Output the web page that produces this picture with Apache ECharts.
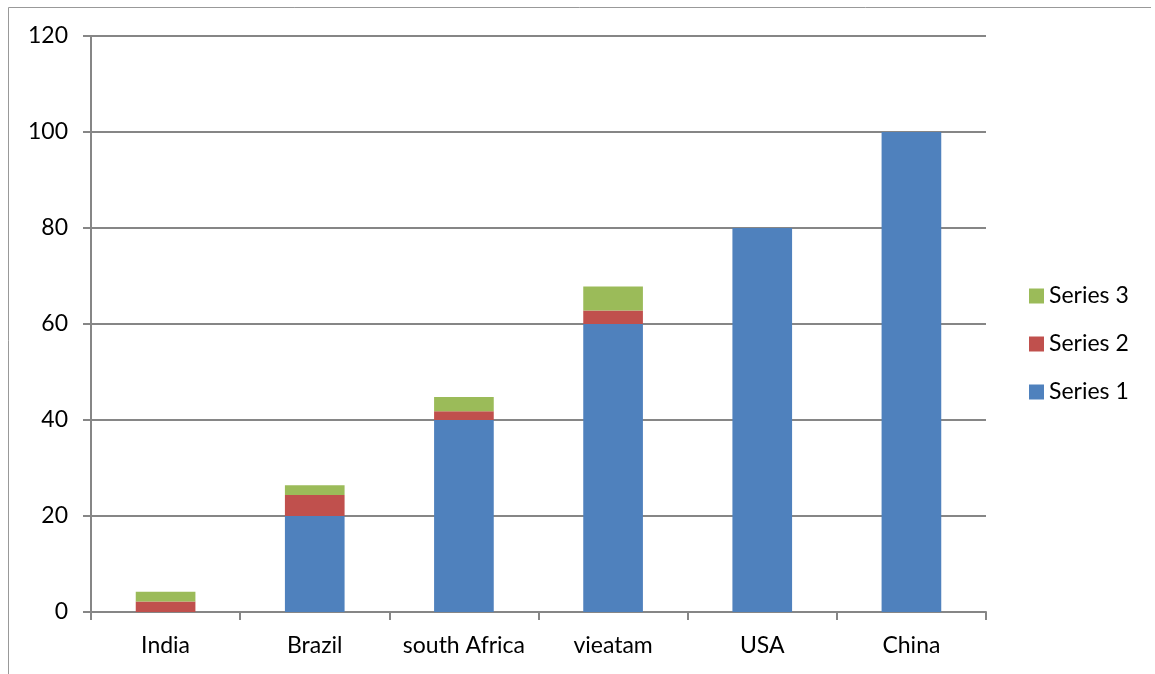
<!DOCTYPE html>
<html><head><meta charset="utf-8">
<script src="https://cdn.jsdelivr.net/npm/echarts@6/dist/echarts.min.js"></script>
<style>html,body{margin:0;padding:0;background:#fff}#c{width:1155px;height:674px}</style>
</head><body><div id="c"></div>
<script>
const categories = ['India', 'Brazil', 'south Africa', 'vieatam', 'USA', 'China'];
const series1 = [0, 20, 40, 60, 80, 100];
const series2 = [2.2, 4.4, 1.8, 2.8, 0, 0];
const series3 = [2.0, 2.0, 3.0, 5.0, 0, 0];
const yTicks = [0, 20, 40, 60, 80, 100, 120];

const chart = echarts.init(document.getElementById('c'), null, {renderer: 'canvas'});
const font = 'Lato, "Open Sans", sans-serif';
const gray = '#868686';
chart.setOption({
  animation: false,
  backgroundColor: '#fff',
  graphic: [{
    type: 'polyline', silent: true,
    shape: {points: [[8.5, 674], [8.5, 7.5], [1151, 7.5]]},
    style: {stroke: '#999', lineWidth: 1, fill: null}
  }],
  grid: {left: 91, right: 169, top: 36, bottom: 62, containLabel: false},
  legend: {
    orient: 'vertical', left: 1024, top: 279,
    itemWidth: 15, itemHeight: 15, itemGap: 24,
    data: ['Series 3', 'Series 2', 'Series 1'],
    textStyle: {fontFamily: font, fontSize: 23, lineHeight: 24, color: '#000'},
    icon: 'rect'
  },
  xAxis: {
    type: 'category', data: categories,
    axisLine: {lineStyle: {color: gray, width: 2}},
    axisTick: {show: true, length: 8, lineStyle: {color: gray, width: 2}},
    axisLabel: {fontFamily: font, fontSize: 23, color: '#000', margin: 22, interval: 0}
  },
  yAxis: {
    type: 'value', min: yTicks[0], max: yTicks[yTicks.length - 1], interval: 20,
    axisLine: {show: true, lineStyle: {color: gray, width: 2}},
    axisTick: {show: true, length: 8, lineStyle: {color: gray, width: 2}},
    splitLine: {lineStyle: {color: gray, width: 2}},
    axisLabel: {fontFamily: font, fontSize: 23, color: '#000', margin: 23}
  },
  series: [
    {name: 'Series 1', type: 'bar', stack: 's', data: series1, barWidth: '40%', itemStyle: {color: '#4F81BD'}},
    {name: 'Series 2', type: 'bar', stack: 's', data: series2, barWidth: '40%', itemStyle: {color: '#C0504D'}},
    {name: 'Series 3', type: 'bar', stack: 's', data: series3, barWidth: '40%', itemStyle: {color: '#9BBB59'}}
  ]
});
</script></body></html>
